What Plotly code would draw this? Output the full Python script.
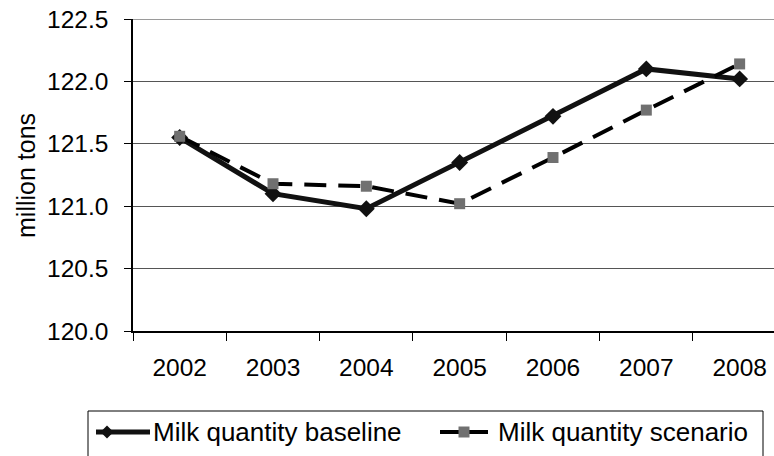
import plotly.graph_objects as go

# Annual milk quantity, million tons
years = ["2002", "2003", "2004", "2005", "2006", "2007", "2008"]
baseline = [121.55, 121.10, 120.98, 121.35, 121.72, 122.10, 122.02]
scenario = [121.56, 121.18, 121.16, 121.02, 121.39, 121.77, 122.14]
series_names = ["Milk quantity baseline", "Milk quantity scenario"]

y_ticks = [120.0, 120.5, 121.0, 121.5, 122.0, 122.5]

FONT = "Liberation Sans, Arial, sans-serif"
W, H = 774, 456
L, R, T, B = 133, 0, 19, 125
PW, PH = W - L - R, H - T - B

BASE_COLOR = "#111111"
SCEN_COLOR = "#000000"
SCEN_MARK = "#707070"


def px(x):
    """pixel column -> paper x"""
    return (x - L) / PW


def py(y):
    """pixel row -> paper y"""
    return (H - B - y) / PH


fig = go.Figure()

fig.add_trace(go.Scatter(
    x=years, y=baseline, name=series_names[0],
    mode="lines+markers",
    line=dict(color=BASE_COLOR, width=5),
    marker=dict(symbol="diamond", size=13, color=BASE_COLOR),
    showlegend=False,
))

fig.add_trace(go.Scatter(
    x=years, y=scenario, name=series_names[1],
    mode="lines+markers",
    line=dict(color=SCEN_COLOR, width=4, dash="22px,12px"),
    marker=dict(symbol="square", size=11, color=SCEN_MARK),
    showlegend=False,
))

shapes = []
# grey border line along the top of the plot area
shapes.append(dict(type="line", xref="paper", x0=0, x1=1, yref="y",
                   y0=y_ticks[-1], y1=y_ticks[-1],
                   line=dict(color="#9a9a9a", width=2)))

# legend frame (runs past the lower edge of the figure)
leg_y = 432
shapes.append(dict(type="rect", xref="paper", yref="paper",
                   x0=px(88), x1=px(763), y0=py(411), y1=py(470),
                   line=dict(color="#000000", width=1), fillcolor="white",
                   layer="above"))

# baseline key: thick line with a diamond
shapes.append(dict(type="line", xref="paper", yref="paper",
                   x0=px(96), x1=px(150), y0=py(leg_y), y1=py(leg_y),
                   line=dict(color=BASE_COLOR, width=5), layer="above"))
dx, dy = 6.5, 6.5
cx = 107
shapes.append(dict(
    type="path", xref="paper", yref="paper", layer="above",
    path=(f"M {px(cx - dx)} {py(leg_y)} L {px(cx)} {py(leg_y - dy)} "
          f"L {px(cx + dx)} {py(leg_y)} L {px(cx)} {py(leg_y + dy)} Z"),
    fillcolor=BASE_COLOR, line=dict(width=0)))

# scenario key: dashes with a grey square
for a, b in [(440, 459), (469, 488)]:
    shapes.append(dict(type="line", xref="paper", yref="paper",
                       x0=px(a), x1=px(b), y0=py(leg_y), y1=py(leg_y),
                       line=dict(color=SCEN_COLOR, width=4), layer="above"))
sx, s = 464, 5.5
shapes.append(dict(type="rect", xref="paper", yref="paper", layer="above",
                   x0=px(sx - s), x1=px(sx + s),
                   y0=py(leg_y + s), y1=py(leg_y - s),
                   fillcolor=SCEN_MARK, line=dict(width=0)))

annotations = [
    dict(text="million tons", textangle=-90,
         xref="paper", yref="paper", x=px(26), y=0.5,
         xanchor="center", yanchor="middle", showarrow=False,
         font=dict(family=FONT, size=25, color="#000000")),
]
for name, x0 in zip(series_names, [151, 496]):
    annotations.append(dict(
        text=name, xref="paper", yref="paper", x=px(x0), y=py(leg_y),
        xanchor="left", yanchor="middle", showarrow=False,
        font=dict(family=FONT, size=26, color="#000000")))

fig.update_layout(
    width=W, height=H,
    margin=dict(l=L, r=R, t=T, b=B),
    paper_bgcolor="white", plot_bgcolor="white",
    font=dict(family=FONT, color="#000000"),
    showlegend=False,
    shapes=shapes,
    annotations=annotations,
    xaxis=dict(
        type="category", tickson="boundaries",
        range=[-0.5, -0.5 + PW / 93.33],
        showgrid=False, showline=True, linecolor="#000000", linewidth=1.5,
        ticks="outside", ticklen=8, tickcolor="#000000", tickwidth=1.2,
        tickfont=dict(family=FONT, size=24.5, color="#000000"),
        ticklabelstandoff=14,
    ),
    yaxis=dict(
        range=[120.0, 122.5], tickvals=y_ticks,
        ticktext=[f"{v:.1f}" for v in y_ticks],
        showgrid=True, gridcolor="#555555", gridwidth=1,
        showline=True, linecolor="#000000", linewidth=1.5,
        ticks="outside", ticklen=7, tickcolor="#000000", tickwidth=1.2,
        tickfont=dict(family=FONT, size=24.5, color="#000000"),
        ticklabelstandoff=11, zeroline=False,
    ),
)

fig.write_html("out.html")
